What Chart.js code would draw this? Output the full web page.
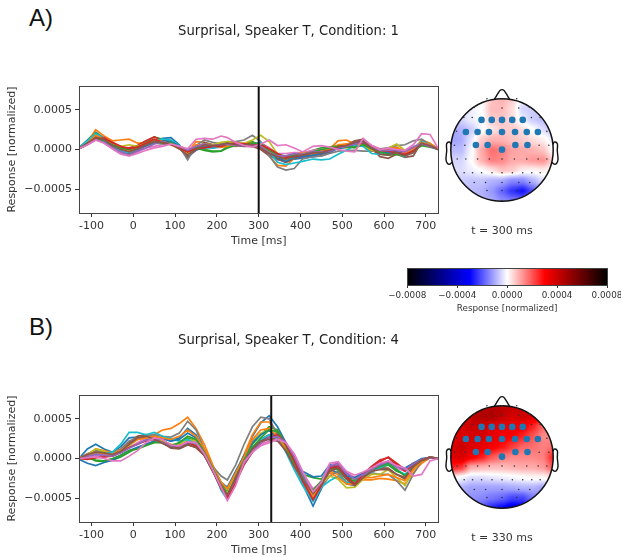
<!DOCTYPE html>
<html>
<head>
<meta charset="utf-8">
<style>
html,body{margin:0;padding:0;background:#fff;width:621px;height:557px;overflow:hidden}
canvas{position:absolute}
.lab{position:absolute;left:29px;font:24px "Liberation Sans",sans-serif;line-height:28px;color:#111}
</style>
<script src="https://cdn.jsdelivr.net/npm/chart.js@4/dist/chart.umd.min.js"></script>
</head>
<body>
<div class="lab" style="top:4px">A)</div>
<div class="lab" style="top:313px">B)</div>
<canvas id="lineA" style="left:0;top:0"></canvas>
<canvas id="lineB" style="left:0;top:309px"></canvas>
<canvas id="headA" style="left:438px;top:86px"></canvas>
<canvas id="headB" style="left:438px;top:393px"></canvas>
<canvas id="cbar" style="left:370px;top:255px"></canvas>
<script>
// ---------- shared axis values ----------
const timeMs=[-130,-110,-90,-70,-50,-30,-10,10,30,50,70,90,110,130,150,170,190,210,225,245,265,285,305,325,345,365,385,405,430,450,470,490,510,530,550,570,590,610,630,650,670,690,710,730];
const timeTicks=[-100,0,100,200,300,400,500,600,700];
const respTicks=[-0.0005,0,0.0005];
const cbarTicks=[-0.0008,-0.0004,0,0.0004,0.0008];
const UNIT=1e-5;
const tab10=['#1f77b4','#ff7f0e','#2ca02c','#d62728','#9467bd','#8c564b','#e377c2','#7f7f7f','#bcbd22','#17becf'];

// ---------- panel A channels (units of 1e-5) ----------
const a01=[2,12,22,14,4,-2,-5,0,5,11,14,15,6,-9,-1,3,2,4,6,6,5,6,7,-2,-12,-16,-12,-11,-9,-8,-4,3,6,8,6,1,-4,-5,-3,-7,-1,8,5,1];
const a02=[1,9,25,17,11,12,13,8,8,12,9,6,1,-4,10,9,6,4,5,4,6,9,4,-8,-20,-21,-11,-8,-5,-4,1,11,12,7,4,-2,-3,1,3,-2,0,12,8,1];
const a03=[2,11,21,14,7,3,0,3,9,16,13,10,2,-6,2,-1,-3,-2,4,6,7,10,5,-5,-11,-13,-9,-5,-1,2,3,5,4,2,7,0,-6,-7,-6,-6,-1,6,4,1];
const a04=[1,7,16,15,8,3,2,5,11,16,11,8,3,-2,2,3,5,6,8,8,7,7,8,2,-6,-9,-8,-6,-2,-1,1,4,6,9,10,5,0,-3,-2,-3,0,9,5,1];
const a05=[1,8,17,12,3,-3,-6,-1,4,9,11,8,3,-4,4,6,5,7,9,6,5,8,3,-7,-13,-14,-10,-10,-9,-7,-4,2,5,8,12,3,-4,-5,-2,-5,2,8,5,0];
const a06=[1,9,18,13,4,-2,-5,0,6,11,9,8,2,-10,0,9,6,8,9,5,4,4,0,-8,-12,-16,-11,-9,-7,-6,-3,3,6,11,13,2,-9,-11,-6,-10,-8,10,6,0];
const a07=[1,6,13,9,1,-5,-8,-3,2,4,6,8,4,0,5,5,6,6,7,7,6,5,6,2,-5,-5,-4,-4,-1,0,1,3,3,6,12,5,1,0,-1,-2,3,9,5,1];
const a08=[1,8,16,12,4,0,-3,1,5,8,7,7,4,-13,5,12,9,7,10,10,12,18,10,-8,-22,-26,-24,-12,-9,-8,-5,-2,-1,-1,-2,-2,1,2,5,6,11,13,6,1];
const a09=[1,9,19,13,6,4,6,4,8,12,10,8,3,-6,4,7,6,9,10,8,8,12,18,10,-6,-14,-10,-6,-4,-2,0,3,2,3,5,-1,-2,2,7,-1,-2,7,5,1];
const a10=[2,11,20,14,5,-2,-4,1,7,12,13,12,5,-7,1,2,2,3,6,7,6,7,9,-3,-16,-19,-17,-15,-12,-13,-12,-6,-1,5,4,-5,-6,-3,-5,-9,1,10,6,1];
const a11=[1,7,15,11,5,1,-2,1,5,9,11,10,4,-3,3,3,4,6,7,6,6,7,5,-4,-10,-15,-10,-9,-7,-5,-2,1,3,7,8,2,-3,-4,-3,-6,-1,7,4,0];
const a12=[1,8,18,13,6,1,-2,2,7,13,10,7,1,-5,6,6,5,3,4,5,7,8,5,-3,-9,-11,-7,-4,-4,-2,0,6,7,8,6,0,-2,1,2,-5,1,9,6,1];
const a13=[1,8,14,11,6,2,0,3,6,10,8,9,3,-3,2,0,-2,-2,2,5,6,8,7,-1,-7,-8,-7,-6,-3,0,2,4,3,3,6,1,-3,-6,-6,-8,-2,5,3,0];
const a14=[1,7,14,14,9,4,1,3,8,13,9,6,2,-3,1,2,4,4,7,8,7,6,6,1,-5,-10,-9,-7,-4,-3,-1,3,5,8,9,3,-1,-2,-4,-6,-2,7,4,1];
const a15=[1,6,12,9,2,-3,-7,-2,2,7,10,7,4,-1,4,7,5,6,7,5,5,6,4,-4,-8,-8,-5,-6,-3,-3,-2,2,4,7,10,4,-1,-1,-1,-3,3,7,4,0];
const a16=[1,8,15,13,5,0,-3,1,6,10,9,7,1,-7,0,6,5,6,8,6,6,6,2,-5,-9,-12,-8,-7,-4,-4,-1,3,5,9,11,2,-6,-7,-4,-8,-4,8,5,0];
const a17=[1,6,12,8,1,-6,-8,-5,-1,2,4,7,4,1,13,14,13,17,15,9,5,3,7,12,5,6,2,-3,4,5,3,0,-2,-3,14,5,0,2,0,-1,6,20,19,1];

// ---------- panel B channels (units of 1e-5) ----------
const b01=[0,12,18,12,8,15,26,27,30,28,25,22,26,38,30,10,-14,-36,-44,-24,2,28,45,54,40,20,-6,-32,-60,-38,-14,-18,-30,-30,-22,-18,-10,-3,-9,-15,-10,-2,1,0];
const b02=[1,4,12,10,7,12,20,28,29,30,36,38,44,52,38,18,-8,-30,-38,-20,5,30,46,46,32,14,-10,-28,-52,-30,-16,-20,-30,-30,-27,-27,-25,-26,-28,-32,-18,-6,1,0];
const b03=[0,2,-3,-4,-2,2,8,14,18,21,20,15,18,26,22,8,-12,-32,-42,-20,0,18,30,40,36,18,-4,-20,-24,-26,-12,-14,-24,-26,-18,-14,-12,-8,-16,-20,-12,-3,1,0];
const b04=[0,0,1,3,4,10,18,24,27,25,20,17,16,18,14,4,-14,-34,-46,-28,-4,12,24,30,32,20,-2,-24,-48,-30,-10,-8,-22,-32,-20,-12,-4,2,-6,-14,-6,-2,1,0];
const b05=[0,3,6,5,4,8,14,18,24,26,20,14,15,22,20,6,-14,-36,-48,-26,-6,10,22,28,30,20,0,-22,-46,-32,-14,-8,-20,-26,-22,-16,-8,-4,-12,-14,-8,-1,1,0];
const b06=[0,6,10,8,6,10,20,28,30,26,20,13,12,17,14,4,-16,-36,-48,-26,-2,14,24,26,24,12,-8,-26,-46,-34,-16,-12,-24,-34,-24,-14,-12,-12,-20,-26,-10,-2,2,0];
const b07=[0,2,3,2,4,9,14,20,26,28,22,16,15,20,20,6,-14,-36,-50,-30,-6,10,18,22,24,18,2,-18,-38,-30,-8,-5,-18,-24,-18,-13,-6,-4,-12,-16,-8,-1,1,0];
const b08=[0,5,10,8,6,12,22,26,28,30,28,27,32,47,36,12,-10,-22,-27,-8,18,40,52,50,30,10,-10,-30,-50,-36,-22,-16,-32,-34,-24,-18,-20,-20,-28,-40,-20,-3,2,0];
const b09=[0,5,12,9,6,10,16,24,26,26,22,18,18,24,22,10,-10,-34,-44,-18,4,22,32,36,28,12,-8,-26,-46,-32,-22,-26,-37,-36,-26,-20,-20,-14,-24,-34,-14,-2,1,0];
const b10=[0,3,8,6,8,18,33,33,30,33,28,25,22,24,18,6,-14,-40,-52,-28,-2,14,24,30,26,8,-14,-34,-54,-36,-28,-22,-30,-30,-20,-17,-12,-6,-14,-20,-10,-2,1,0];
const b11=[-1,-6,-9,-5,-2,4,10,14,18,22,26,22,24,32,26,10,-12,-30,-36,-16,4,20,30,36,26,10,-10,-16,-23,-22,-8,-12,-22,-24,-18,-12,-8,-4,-10,-12,-6,0,1,0];
const b12=[0,4,8,6,5,10,18,24,26,28,26,24,28,36,28,12,-10,-30,-38,-18,2,24,36,38,28,12,-8,-26,-50,-30,-18,-24,-32,-32,-24,-24,-22,-20,-24,-28,-14,-3,1,0];
const b13=[0,1,-2,-3,0,4,10,12,16,20,20,16,20,28,24,8,-12,-34,-46,-24,-2,14,26,36,34,16,-6,-24,-40,-28,-12,-14,-26,-28,-20,-14,-10,-6,-14,-22,-10,-2,1,0];
const b14=[0,-1,1,2,3,8,14,18,22,24,20,15,16,20,16,4,-16,-38,-50,-30,-8,8,20,26,30,18,-2,-28,-52,-34,-12,-10,-24,-32,-20,-10,-2,1,-8,-16,-8,-2,1,0];
const b15=[0,3,5,4,3,7,13,18,23,25,20,15,14,20,20,6,-14,-36,-46,-26,-6,8,20,26,28,20,2,-20,-44,-30,-10,-6,-18,-26,-20,-14,-8,-4,-10,-14,-7,-1,1,0];
const b16=[0,5,8,7,5,9,18,26,28,25,19,14,13,18,14,4,-16,-34,-46,-24,-4,12,22,24,22,10,-10,-26,-44,-32,-16,-12,-26,-34,-24,-16,-14,-14,-20,-24,-10,-2,2,0];
const b17=[0,1,2,0,-3,-3,3,10,20,26,24,17,16,21,20,6,-14,-36,-53,-34,-4,8,16,20,24,20,6,-16,-42,-30,-6,-4,-16,-21,-17,-12,-6,-3,-9,-12,-22,-20,-3,0];

// ---------- scalp maps (units of 1e-5, rows top to bottom on an 11x11 lattice over the head) ----------
const mapA=[
[-4,-3,-2,0,7,9,6,-2,-5,-6,-7],
[-4,-3,-2,0,8,8,4,-5,-6,-6,-7],
[-7,-5,-2,0,6,7,4,-2,-6,-8,-9],
[-11,-9,-6,-1,3,6,6,4,0,-4,-8],
[-11,-10,-3,6,9,9,7,6,4,2,-3],
[-8,-8,-1,10,17,15,11,10,9,7,0],
[-5,-5,0,9,15,14,10,10,12,13,5],
[-4,-4,-2,0,3,7,6,2,1,2,0],
[-6,-6,-7,-7,-9,-10,-14,-14,-9,-4,-1],
[-8,-8,-8,-9,-12,-18,-24,-28,-20,-8,-4],
[-8,-8,-8,-9,-10,-13,-15,-16,-11,-6,-3]];
const mapB=[
[30,34,38,42,44,44,42,42,38,30,26],
[30,36,42,46,47,42,38,40,37,33,25],
[30,38,40,40,36,34,34,32,26,18,14],
[30,37,38,38,35,32,30,26,20,14,14],
[36,40,37,35,32,28,23,18,17,15,17],
[36,38,32,27,20,16,14,14,14,15,26],
[27,24,10,9,8,8,9,10,10,12,20],
[3,-1,-4,-4,-3,-2,-1,0,1,1,3],
[-10,-9,-11,-11,-11,-11,-10,-9,-9,-11,-14],
[-12,-12,-13,-14,-16,-18,-22,-22,-16,-14,-14],
[-14,-15,-16,-20,-26,-30,-34,-32,-24,-16,-14]];
const colorStops=[[-80,0,0,0],[-30,0,0,255],[0,255,255,255],[30,255,0,0],[80,0,0,0]];

// ---------- sensors (head radius = 1) ----------
const activeX=[-.40,-.20,0,.20,.405,-.706,-.477,-.255,0,.255,.484,.70,-.51,-.281,0,.261,.497];
const activeY=[.588,.588,.588,.588,.588,.353,.353,.353,.353,.353,.353,.353,.098,.098,.007,.098,.098];
const otherX=[-.294,0,.288,-.542,0,.327,.536,-.745,-.582,.575,.745,-.889,.876,-.928,-.725,.725,.915,-.876,-.706,-.477,-.248,0,.242,.484,.706,.876,-.739,-.575,-.399,-.196,0,.203,.405,.582,.745,-.542,-.32,0,.327,.542,-.294,0,.288,0];
const otherY=[1,1,1,.837,.82,.82,.837,.634,.634,.634,.634,.366,.366,.092,.092,.092,.092,-.176,-.176,-.176,-.176,-.176,-.176,-.176,-.176,-.176,-.444,-.444,-.444,-.444,-.444,-.444,-.444,-.444,-.444,-.634,-.634,-.634,-.634,-.634,-.791,-.791,-.791,-.987];
const noseX=[-.15,-.1,-.05,-.02,.02,.05,.1,.15];
const noseY=[.985,1.07,1.15,1.175,1.175,1.15,1.07,.985];
const earX=[.994,1.02,1.036,1.06,1.084,1.08,1.094,1.064,1.02,.978];
const earY=[.111,.155,.157,.149,.111,-.011,-.186,-.263,-.277,-.24];

const FONT='"DejaVu Sans"';
const INK='#333333';
const frame={id:'frame',afterDatasetsDraw(c){const a=c.chartArea,x=c.ctx;x.save();x.strokeStyle='#444444';x.lineWidth=1;
  x.strokeRect(Math.round(a.left)+.5,Math.round(a.top)+.5,Math.round(a.width),Math.round(a.height));x.restore();}};
const pairs=(xs,ys,k=1)=>xs.map((v,i)=>({x:v,y:ys[i]*k}));
function fixTicks(list){return s=>{s.ticks=list.map(v=>({value:v}));};}

function linePanel(id,titleText,series,cursor){
  const sets=series.map((s,i)=>({data:pairs(timeMs,s,UNIT),borderColor:tab10[i%10],borderWidth:1.7,pointRadius:0,tension:0,fill:false,order:100-i}));
  sets.push({data:[{x:cursor,y:-0.0008},{x:cursor,y:0.0008}],borderColor:'#111111',borderWidth:2,pointRadius:0,order:0});
  new Chart(document.getElementById(id),{type:'line',data:{datasets:sets},plugins:[frame],options:{
    responsive:false,animation:false,layout:{padding:0,autoPadding:false},
    plugins:{legend:{display:false},tooltip:{enabled:false},
      title:{display:true,text:titleText,color:'#222222',font:{family:FONT,size:13.2,weight:'normal',lineHeight:1.2},padding:{top:24,bottom:46.2}}},
    scales:{
      x:{type:'linear',min:-130,max:730,afterBuildTicks:fixTicks(timeTicks),
        grid:{drawOnChartArea:false,color:INK,tickLength:4},border:{display:false},
        ticks:{color:INK,font:{family:FONT,size:11},padding:3,maxRotation:0,autoSkip:false,callback:v=>String(v)},
        title:{display:true,text:'Time [ms]',color:INK,font:{family:FONT,size:11},padding:{top:2,bottom:0}},
        afterFit:s=>{s.height=35;}},
      y:{type:'linear',min:-0.0008,max:0.0008,afterBuildTicks:fixTicks(respTicks),
        grid:{drawOnChartArea:false,color:INK,tickLength:4},border:{display:false},
        ticks:{color:INK,font:{family:FONT,size:11},padding:3,callback:v=>{const t=Math.abs(v).toFixed(4);return v<0?'\u2212'+t:t;}},
        title:{display:true,text:'Response [normalized]',color:INK,font:{family:FONT,size:11},padding:{top:6,bottom:2}},
        afterFit:s=>{s.width=79;}},
      gap:{type:'linear',position:'right',display:true,grid:{display:false},border:{display:false},ticks:{display:false},afterFit:s=>{s.width=138.6;}}
    }}});
}

function colorOf(v){
  const st=colorStops;
  if(v<=st[0][0])return st[0].slice(1);
  for(let i=1;i<st.length;i++){ if(v<=st[i][0]){const t=(v-st[i-1][0])/(st[i][0]-st[i-1][0]);
    return [1,2,3].map(k=>st[i-1][k]+(st[i][k]-st[i-1][k])*t);} }
  return st[st.length-1].slice(1);
}
function scalpPlugin(map){return {id:'scalp',beforeDatasetsDraw(c){
  const sx=c.scales.x,sy=c.scales.y,x=c.ctx,n=map.length;
  const l=Math.floor(sx.getPixelForValue(-1)),r=Math.ceil(sx.getPixelForValue(1)),t=Math.floor(sy.getPixelForValue(1)),b=Math.ceil(sy.getPixelForValue(-1));
  const w=r-l,h=b-t,off=document.createElement('canvas');off.width=w;off.height=h;
  const o=off.getContext('2d'),img=o.createImageData(w,h);
  for(let j=0;j<h;j++)for(let i=0;i<w;i++){
    const ux=sx.getValueForPixel(l+i+.5),uy=sy.getValueForPixel(t+j+.5);
    let fx=(ux+1)/2*(n-1),fy=(1-uy)/2*(n-1);
    fx=Math.max(0,Math.min(n-1.001,fx));fy=Math.max(0,Math.min(n-1.001,fy));
    const i0=Math.floor(fx),j0=Math.floor(fy),dx=fx-i0,dy=fy-j0;
    const sm=d=>d*d*(3-2*d),wx=(dx+sm(dx))/2,wy=(dy+sm(dy))/2;
    const v=(map[j0][i0]*(1-wx)+map[j0][i0+1]*wx)*(1-wy)+(map[j0+1][i0]*(1-wx)+map[j0+1][i0+1]*wx)*wy;
    const col=colorOf(v),p=(j*w+i)*4;
    img.data[p]=col[0];img.data[p+1]=col[1];img.data[p+2]=col[2];img.data[p+3]=255;
  }
  o.putImageData(img,0,0);
  const cx=sx.getPixelForValue(0),cy=sy.getPixelForValue(0),R=sx.getPixelForValue(1)-cx;
  x.save();x.beginPath();x.arc(cx,cy,R,0,Math.PI*2);x.clip();x.drawImage(off,l,t);x.restore();
  x.save();x.beginPath();x.arc(cx,cy,R,0,Math.PI*2);x.strokeStyle='#111111';x.lineWidth=1.5;x.stroke();x.restore();
}};}

function headPanel(id,timeLabel,map){
  const outline=d=>({data:d,showLine:true,borderColor:'#111111',borderWidth:1.4,pointRadius:0,tension:.3,order:3});
  new Chart(document.getElementById(id),{type:'scatter',data:{datasets:[
    outline(pairs(noseX,noseY)),
    outline(pairs(earX,earY)),
    outline(pairs(earX.map(v=>-v),earY)),
    {data:pairs(otherX,otherY),pointRadius:.8,pointBackgroundColor:'#333333',pointBorderWidth:0,order:2},
    {data:pairs(activeX,activeY),pointRadius:3.3,pointBackgroundColor:'#1f77b4',pointBorderWidth:0,order:1}
  ]},plugins:[scalpPlugin(map)],options:{
    responsive:false,animation:false,layout:{padding:0,autoPadding:false},
    plugins:{legend:{display:false},tooltip:{enabled:false}},
    scales:{
      x:{type:'linear',min:-1.25,max:1.25,grid:{display:false},border:{display:false},
        ticks:{display:false},
        title:{display:true,text:timeLabel,color:INK,font:{family:FONT,size:11},padding:{top:8,bottom:0}},
        afterFit:s=>{s.height=24;}},
      y:{display:false,type:'linear',min:-1.25,max:1.25}
    }}});
}

function colorbar(){
  const lo=cbarTicks[0],hi=cbarTicks[4];
  new Chart(document.getElementById('cbar'),{type:'bar',data:{labels:['r'],datasets:[{data:[[lo,hi]],barPercentage:1,categoryPercentage:1,borderWidth:0,
    backgroundColor:ctx=>{const c=ctx.chart,s=c.scales.x;if(!c.chartArea||!s)return '#888';
      const g=c.ctx.createLinearGradient(s.getPixelForValue(lo),0,s.getPixelForValue(hi),0);
      colorStops.forEach(p=>g.addColorStop((p[0]*UNIT-lo)/(hi-lo),`rgb(${p[1]},${p[2]},${p[3]})`));return g;}}]},
    plugins:[frame],options:{indexAxis:'y',responsive:false,animation:false,layout:{autoPadding:false,padding:{left:37.3,right:23,top:13,bottom:6}},
      plugins:{legend:{display:false},tooltip:{enabled:false}},
      scales:{
        x:{type:'linear',min:lo,max:hi,afterBuildTicks:fixTicks(cbarTicks),
          grid:{drawOnChartArea:false,color:INK,tickLength:3},border:{display:false},
          ticks:{color:INK,font:{family:FONT,size:8.8},padding:2,maxRotation:0,autoSkip:false,callback:v=>{const t=Math.abs(v).toFixed(4);return v<0?'\u2212'+t:t;}},
          title:{display:true,text:'Response [normalized]',color:INK,font:{family:FONT,size:8.8},padding:{top:2,bottom:0}},
          afterFit:s=>{s.height=29;}},
        y:{display:false}
      }}});
}

function size(id,w,h){const c=document.getElementById(id);c.width=w;c.height=h;c.style.width=w+'px';c.style.height=h+'px';}
size('lineA',577,248);size('lineB',577,248);size('headA',128,152);size('headB',128,152);size('cbar',260,65);

linePanel('lineA','Surprisal, Speaker T, Condition: 1',[a01,a02,a03,a04,a05,a06,a07,a08,a09,a10,a11,a12,a13,a14,a15,a16,a17],300);
linePanel('lineB','Surprisal, Speaker T, Condition: 4',[b01,b02,b03,b04,b05,b06,b07,b08,b09,b10,b11,b12,b13,b14,b15,b16,b17],330);
headPanel('headA','t = 300 ms',mapA);
headPanel('headB','t = 330 ms',mapB);
colorbar();
</script>
</body>
</html>
